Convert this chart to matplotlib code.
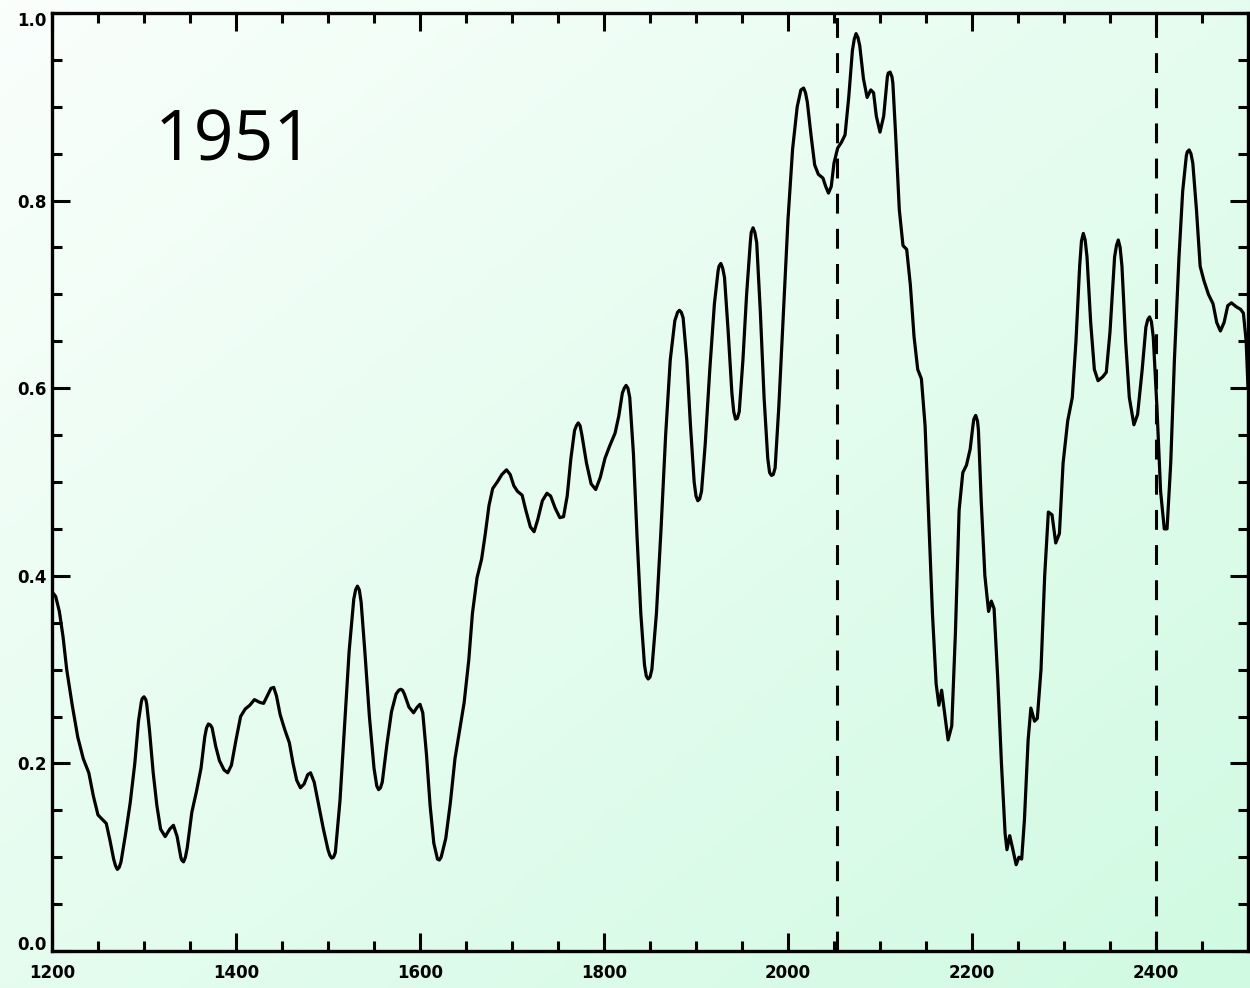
import numpy as np
import matplotlib.pyplot as plt
from matplotlib.transforms import ScaledTranslation

# Curve samples (x position, normalised value)
xs = [1200, 1204, 1208, 1212, 1216, 1222, 1228, 1234, 1240, 1245, 1250, 1255, 1259, 1263, 1267, 1269,
      1271, 1273, 1275, 1280, 1285, 1290, 1294, 1297, 1298, 1300, 1302, 1303, 1306, 1310, 1314, 1318,
      1323, 1328, 1332, 1336, 1340, 1341, 1343, 1345, 1347, 1352, 1357, 1362, 1366, 1368, 1370, 1372,
      1374, 1378, 1382, 1387, 1391, 1395, 1400, 1405, 1410, 1415, 1420, 1426, 1430, 1434, 1438, 1441,
      1444, 1448, 1453, 1458, 1462, 1466, 1470, 1474, 1478, 1481, 1485, 1490, 1495, 1500, 1502, 1504,
      1506, 1508, 1513, 1518, 1523, 1528, 1530, 1532, 1534, 1536, 1540, 1545, 1550, 1553, 1555, 1557,
      1559, 1564, 1569, 1574, 1577, 1579, 1581, 1583, 1588, 1593, 1597, 1600, 1603, 1607, 1611, 1615,
      1619, 1621, 1623, 1628, 1633, 1638, 1643, 1648, 1653, 1657, 1662, 1667, 1671, 1675, 1679, 1684,
      1689, 1694, 1698, 1702, 1706, 1711, 1715, 1720, 1724, 1728, 1733, 1738, 1742, 1747, 1752, 1756,
      1760, 1764, 1768, 1770, 1772, 1774, 1776, 1781, 1786, 1791, 1796, 1801, 1806, 1812, 1816, 1820,
      1822, 1824, 1826, 1828, 1832, 1836, 1840, 1844, 1846, 1848, 1850, 1852, 1857, 1862, 1867, 1872,
      1877, 1880, 1882, 1884, 1886, 1890, 1894, 1898, 1900, 1902, 1904, 1906, 1910, 1915, 1920, 1924,
      1925, 1927, 1929, 1931, 1935, 1939, 1941, 1943, 1945, 1947, 1951, 1955, 1959, 1960, 1962, 1964,
      1966, 1970, 1974, 1978, 1980, 1982, 1984, 1986, 1990, 1995, 2000, 2005, 2010, 2014, 2017, 2019,
      2021, 2025, 2029, 2033, 2038, 2041, 2044, 2047, 2050, 2054, 2058, 2062, 2066, 2070, 2072, 2074,
      2076, 2078, 2082, 2086, 2090, 2093, 2096, 2100, 2104, 2108, 2109, 2111, 2113, 2114, 2117, 2121,
      2125, 2129, 2133, 2137, 2141, 2145, 2149, 2153, 2157, 2161, 2164, 2167, 2170, 2174, 2178, 2182,
      2186, 2190, 2194, 2198, 2201, 2202, 2204, 2206, 2207, 2210, 2214, 2218, 2221, 2224, 2228, 2232,
      2236, 2238, 2241, 2244, 2248, 2251, 2254, 2257, 2261, 2264, 2268, 2271, 2275, 2279, 2283, 2287,
      2291, 2295, 2299, 2304, 2309, 2313, 2317, 2319, 2321, 2323, 2325, 2329, 2333, 2337, 2342, 2346,
      2350, 2355, 2357, 2359, 2361, 2363, 2367, 2371, 2376, 2380, 2385, 2389, 2391, 2393, 2395, 2397,
      2401, 2405, 2409, 2412, 2416, 2420, 2425, 2429, 2433, 2434, 2436, 2438, 2440, 2444, 2448, 2452,
      2457, 2462, 2466, 2470, 2474, 2478, 2482, 2487, 2492, 2495, 2498, 2500]
ys = [0.383, 0.378, 0.362, 0.335, 0.300, 0.262, 0.228, 0.205, 0.190, 0.165, 0.145, 0.140, 0.136, 0.118, 0.098, 0.091,
      0.087, 0.089, 0.095, 0.125, 0.158, 0.200, 0.245, 0.265, 0.269, 0.271, 0.268, 0.263, 0.235, 0.190, 0.155, 0.130,
      0.122, 0.130, 0.134, 0.122, 0.100, 0.097, 0.095, 0.100, 0.110, 0.148, 0.170, 0.195, 0.228, 0.238, 0.242, 0.241,
      0.238, 0.218, 0.203, 0.193, 0.190, 0.198, 0.225, 0.250, 0.258, 0.262, 0.268, 0.265, 0.264, 0.272, 0.280, 0.281,
      0.272, 0.252, 0.236, 0.222, 0.200, 0.182, 0.174, 0.178, 0.188, 0.190, 0.180, 0.155, 0.130, 0.108, 0.102, 0.099,
      0.100, 0.105, 0.160, 0.240, 0.320, 0.375, 0.385, 0.389, 0.385, 0.372, 0.320, 0.250, 0.195, 0.176, 0.172, 0.174,
      0.180, 0.220, 0.255, 0.274, 0.278, 0.279, 0.278, 0.274, 0.260, 0.254, 0.260, 0.263, 0.254, 0.210, 0.155, 0.115,
      0.098, 0.097, 0.100, 0.120, 0.158, 0.205, 0.235, 0.265, 0.310, 0.360, 0.398, 0.418, 0.445, 0.475, 0.493, 0.500,
      0.508, 0.513, 0.508, 0.496, 0.490, 0.486, 0.470, 0.452, 0.447, 0.460, 0.480, 0.488, 0.485, 0.472, 0.462, 0.463,
      0.485, 0.525, 0.555, 0.560, 0.563, 0.560, 0.550, 0.520, 0.498, 0.492, 0.505, 0.525, 0.538, 0.552, 0.570, 0.595,
      0.600, 0.603, 0.600, 0.590, 0.530, 0.440, 0.360, 0.305, 0.293, 0.290, 0.292, 0.300, 0.360, 0.450, 0.550, 0.630,
      0.672, 0.681, 0.683, 0.681, 0.675, 0.630, 0.560, 0.500, 0.485, 0.480, 0.482, 0.490, 0.540, 0.620, 0.690, 0.725,
      0.730, 0.733, 0.728, 0.718, 0.660, 0.595, 0.575, 0.567, 0.568, 0.575, 0.630, 0.700, 0.755, 0.766, 0.771, 0.766,
      0.755, 0.680, 0.590, 0.525, 0.510, 0.507, 0.508, 0.515, 0.580, 0.680, 0.780, 0.855, 0.900, 0.918, 0.920, 0.915,
      0.905, 0.870, 0.838, 0.828, 0.824, 0.815, 0.808, 0.815, 0.840, 0.856, 0.862, 0.870, 0.910, 0.960, 0.972, 0.978,
      0.974, 0.965, 0.930, 0.910, 0.918, 0.915, 0.890, 0.873, 0.890, 0.932, 0.936, 0.937, 0.932, 0.925, 0.870, 0.790,
      0.752, 0.748, 0.710, 0.655, 0.620, 0.610, 0.560, 0.460, 0.360, 0.285, 0.262, 0.278, 0.255, 0.225, 0.240, 0.340,
      0.470, 0.510, 0.518, 0.535, 0.560, 0.567, 0.571, 0.565, 0.555, 0.480, 0.400, 0.362, 0.373, 0.365, 0.290, 0.200,
      0.125, 0.108, 0.123, 0.110, 0.092, 0.100, 0.098, 0.140, 0.225, 0.259, 0.245, 0.248, 0.300, 0.400, 0.468, 0.465,
      0.435, 0.445, 0.520, 0.565, 0.590, 0.650, 0.730, 0.757, 0.765, 0.758, 0.740, 0.670, 0.620, 0.608, 0.612, 0.617,
      0.660, 0.740, 0.752, 0.758, 0.750, 0.730, 0.650, 0.590, 0.561, 0.572, 0.620, 0.665, 0.673, 0.676, 0.671, 0.655,
      0.580, 0.490, 0.450, 0.450, 0.520, 0.630, 0.740, 0.810, 0.848, 0.852, 0.854, 0.850, 0.840, 0.790, 0.730, 0.715,
      0.700, 0.690, 0.670, 0.661, 0.670, 0.688, 0.691, 0.687, 0.684, 0.680, 0.650, 0.600]

markers_x = [2053, 2400]
label = "1951"

fig = plt.figure(figsize=(12.5, 9.88), dpi=100)

# soft white-to-mint background across the whole figure
bg = fig.add_axes([0, 0, 1, 1], zorder=0)
gx, gy = np.meshgrid(np.linspace(0, 1, 256), np.linspace(0, 1, 256))
t = np.clip((gx + gy) / 2.0, 0, 1)[:, :, None]
c0 = np.array([250, 255, 252]) / 255.0
c1 = np.array([208, 250, 226]) / 255.0
bg.imshow(c0 + (c1 - c0) * t, aspect='auto', extent=[0, 1, 0, 1], origin='upper')
bg.axis('off')

ax = fig.add_axes([52 / 1250, 37 / 988, 1196 / 1250, 938 / 988], zorder=1)
ax.patch.set_alpha(0)

ax.plot(xs, ys, color='black', lw=2.3, solid_joinstyle='round', solid_capstyle='round')
for mx in markers_x:
    ax.axvline(mx, color='black', lw=2.2, linestyle=(0, (6.5, 5.0)))

ax.set_xlim(1200, 2500)
ax.set_ylim(0, 1.0)
ax.set_xticks(np.arange(1200, 2500, 200))
ax.set_xticks(np.arange(1200, 2501, 50), minor=True)
ax.set_yticks(np.arange(0, 1.01, 0.2))
ax.set_yticks(np.arange(0, 1.01, 0.05), minor=True)
ax.yaxis.set_major_formatter(plt.FormatStrFormatter('%.1f'))

ax.tick_params(which='both', direction='in', top=True, right=True, width=2.2, color='black')
ax.tick_params(which='major', length=13, labelsize=12)
ax.tick_params(which='minor', length=7)
ax.tick_params(axis='x', pad=9)
ax.tick_params(axis='y', pad=4)
for lab in ax.get_xticklabels() + ax.get_yticklabels():
    lab.set_fontweight('bold')
# nudge the end labels inwards so the corner labels stay apart
ylabs = ax.get_yticklabels()
ylabs[0].set_transform(ylabs[0].get_transform() + ScaledTranslation(0, 6 / 72, fig.dpi_scale_trans))
ylabs[-1].set_transform(ylabs[-1].get_transform() + ScaledTranslation(0, -4 / 72, fig.dpi_scale_trans))
for sp in ax.spines.values():
    sp.set_linewidth(2.4)

ax.text(1398, 0.862, label, fontsize=50, family='Open Sans', ha='center', va='center')

fig.savefig('out.png', dpi=100)
